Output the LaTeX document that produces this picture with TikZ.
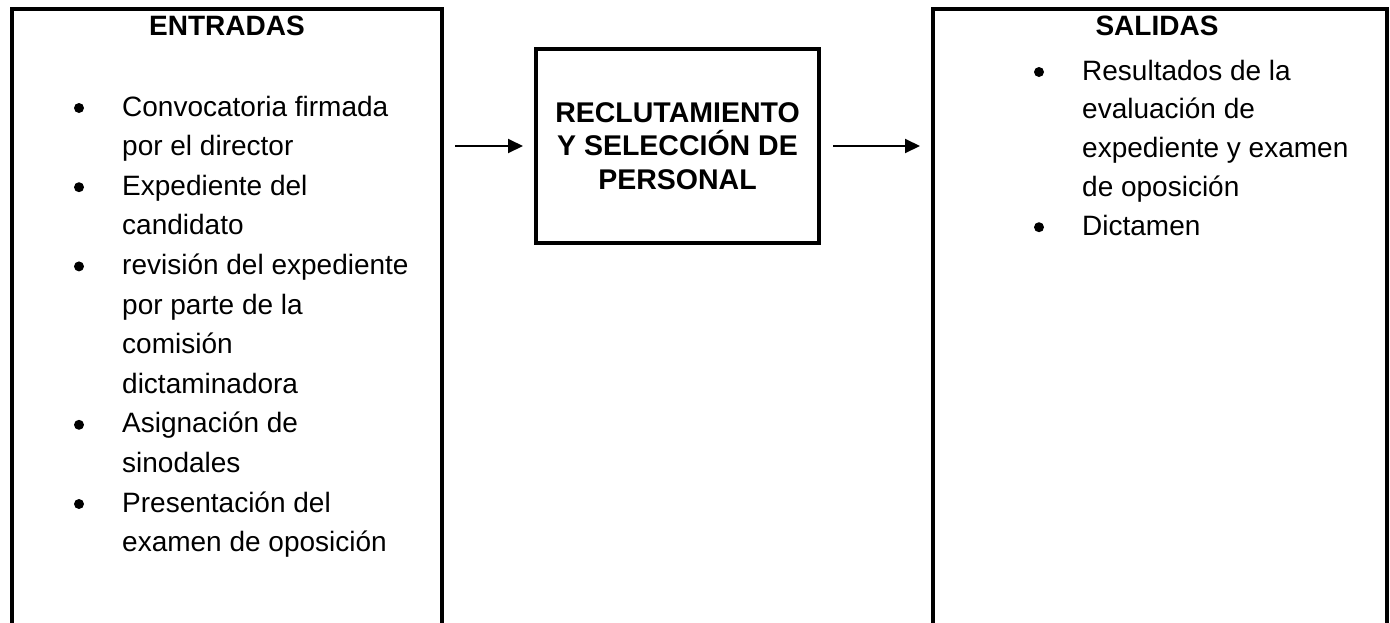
\documentclass[tikz,border=0pt]{standalone}
\usepackage{fontspec}
\setmainfont{Liberation Sans}
\usetikzlibrary{arrows.meta,calc}

\begin{document}
\begin{tikzpicture}[x=1pt,y=-1pt,
        panel/.style={draw, rectangle, line width=4pt, inner sep=0pt, outer sep=0pt, anchor=north west},
        heading/.style={font=\fontsize{28}{33}\selectfont\bfseries, anchor=base, inner sep=0pt},
        entry/.style={font=\fontsize{28}{33}\selectfont, anchor=base west, inner sep=0pt},
        dot/.style={circle, fill, inner sep=0pt, minimum size=10pt},
        flow/.style={-{Triangle[length=15pt,width=14pt]}, line width=2pt, shorten <=13pt, shorten >=13pt}]

    \useasboundingbox (0,0) rectangle (1390,622);
    \clip (0,0) rectangle (1390,622);

    % Boxes
    \node[panel, minimum width=430pt, minimum height=700pt] (inbox) at (12,9) {};
    \node[panel, minimum width=283pt, minimum height=194pt, align=center,
          font=\fontsize{28.5}{33.5}\selectfont\bfseries] (proc) at (536,49)
          {RECLUTAMIENTO\\Y SELECCIÓN DE\\PERSONAL};
    \node[panel, minimum width=454pt, minimum height=700pt] (outbox) at (933,9) {};

    % Headings
    \node[heading] (intitle) at (227,35) {ENTRADAS};
    \node[heading] (outtitle) at (1157,35) {SALIDAS};

    % Inputs
    \foreach \t/\blt [count=\i from 0] in {Convocatoria firmada/1, por el director/0,
                                           Expediente del/1, candidato/0,
                                           revisión del expediente/1, por parte de la/0,
                                           comisión/0, dictaminadora/0,
                                           Asignación de/1, sinodales/0,
                                           Presentación del/1, examen de oposición/0} {
        \node[entry] (in\i) at (122,116+39.6*\i) {\t};
        \ifnum\blt=1 \node[dot] (indot\i) at (79,108+39.6*\i) {}; \fi
    }

    % Outputs
    \foreach \t/\blt [count=\i from 0] in {Resultados de la/1, evaluación de/0,
                                           expediente y examen/0, de oposición/0,
                                           Dictamen/1} {
        \node[entry] (out\i) at (1082,80+38.8*\i) {\t};
        \ifnum\blt=1 \node[dot] (outdot\i) at (1039,72+38.8*\i) {}; \fi
    }

    % Arrows
    \draw[flow] (inbox.east |- proc.west) -- (proc.west);
    \draw[flow, shorten <=14pt] (proc.east) -- (outbox.west |- proc.east);
\end{tikzpicture}
\end{document}
